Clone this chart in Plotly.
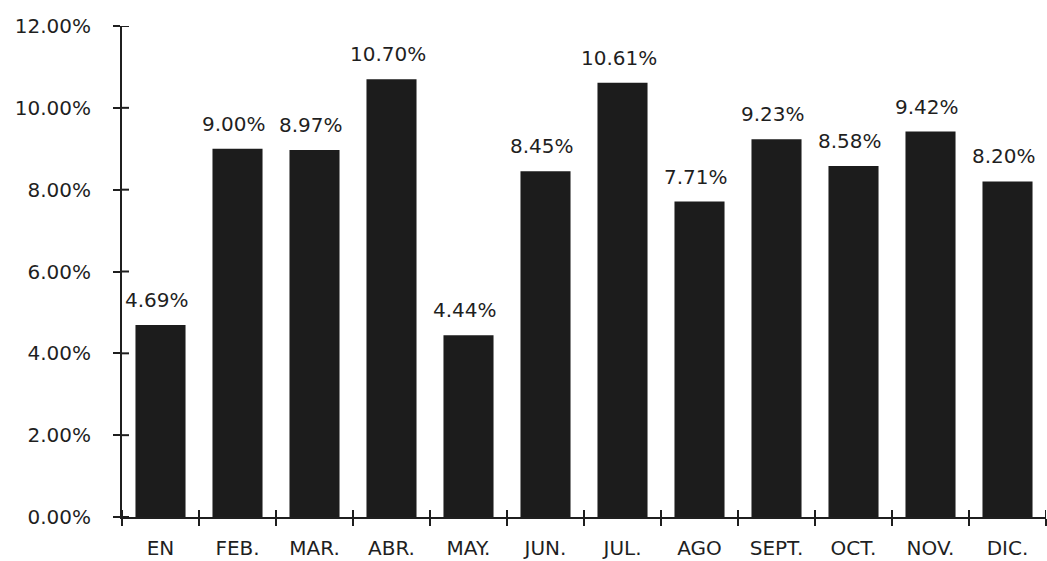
import plotly.graph_objects as go

# Monthly percentages
months = ["EN", "FEB.", "MAR.", "ABR.", "MAY.", "JUN.", "JUL.", "AGO", "SEPT.", "OCT.", "NOV.", "DIC."]
values = [4.69, 9.00, 8.97, 10.70, 4.44, 8.45, 10.61, 7.71, 9.23, 8.58, 9.42, 8.20]
y_ticks = [0, 2, 4, 6, 8, 10, 12]

ink = "#1f1f1f"
font = dict(family="DejaVu Sans", size=20, color=ink)
TICK = 7

fig = go.Figure()
fig.add_trace(go.Bar(
    x=months, y=values, width=0.65,
    marker=dict(color="#1c1c1c", line=dict(width=0)),
    showlegend=False, hoverinfo="skip",
))

# value labels above each bar
for i, (m, v) in enumerate(zip(months, values)):
    fig.add_annotation(
        x=m, y=v, text=f"{v:.2f}%", showarrow=False,
        yanchor="bottom", yshift=11, xshift=-4,
        font=font, bgcolor="white" if i == 0 else "rgba(0,0,0,0)",
    )

# inner halves of the tick marks, so each tick crosses its axis line
for t in y_ticks:
    fig.add_shape(type="line", xref="paper", yref="y", xsizemode="pixel",
                  xanchor=0, x0=0, x1=TICK, y0=t, y1=t,
                  line=dict(color=ink, width=2), layer="above")
for b in range(len(months) + 1):
    fig.add_shape(type="line", xref="x", yref="paper", ysizemode="pixel",
                  yanchor=0, y0=0, y1=TICK, x0=b - 0.5, x1=b - 0.5,
                  line=dict(color=ink, width=2), layer="above")

axis_common = dict(showgrid=False, zeroline=False, showline=True,
                   linecolor=ink, linewidth=2, tickcolor=ink, tickwidth=2)

fig.update_layout(
    width=1047, height=561,
    margin=dict(l=122, r=1, t=26, b=44),
    paper_bgcolor="white", plot_bgcolor="white",
    font=font,
    bargap=0.35,
    xaxis=dict(**axis_common, type="category", range=[-0.5, 11.5],
               tickson="boundaries", ticks="outside", ticklen=TICK,
               ticklabelstandoff=12, tickfont=font),
    yaxis=dict(**axis_common, range=[0, 12], tickvals=y_ticks,
               ticktext=[f"{t:.2f}%" for t in y_ticks],
               ticks="outside", ticklen=TICK, ticklabelstandoff=18,
               tickfont=font),
)

fig.write_html("out.html")
